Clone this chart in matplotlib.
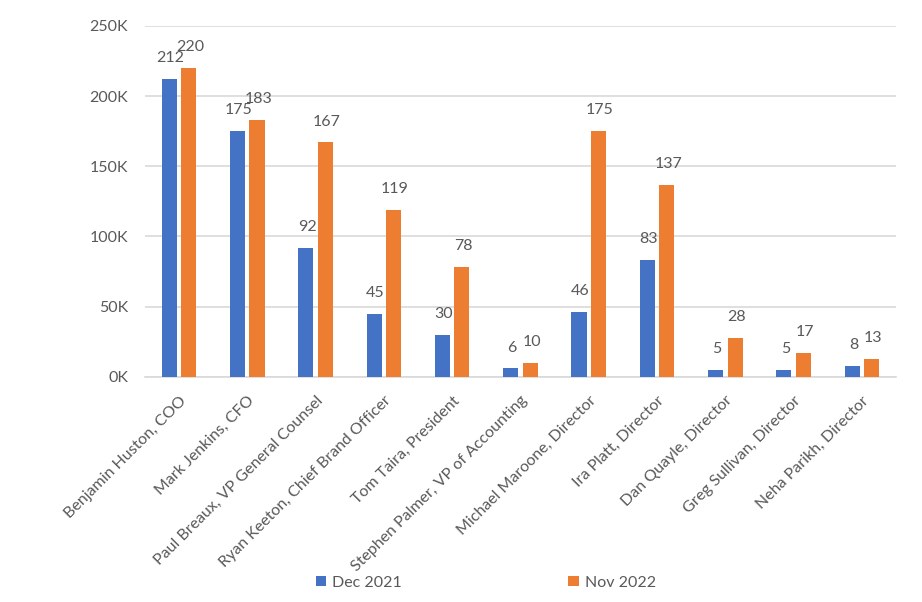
import matplotlib
matplotlib.use("Agg")
import numpy as np
from matplotlib import pyplot as plt
from matplotlib.ticker import FuncFormatter

# data (thousands)
people = [
    "Benjamin Huston, COO",
    "Mark Jenkins, CFO",
    "Paul Breaux, VP General Counsel",
    "Ryan Keeton, Chief Brand Officer",
    "Tom Taira, President",
    "Stephen Palmer, VP of Accounting",
    "Michael Maroone, Director",
    "Ira Platt, Director",
    "Dan Quayle, Director",
    "Greg Sullivan, Director",
    "Neha Parikh, Director",
]
dec2021 = [212, 175, 92, 45, 30, 6, 46, 83, 5, 5, 8]
nov2022 = [220, 183, 167, 119, 78, 10, 175, 137, 28, 17, 13]
seriesNames = ["Dec 2021", "Nov 2022"]

# style
textColor = "#595959"
gridColor = "#D9D9D9"
blue = "#4472C4"
orange = "#ED7D31"
plt.rcParams["font.family"] = ["Lato", "DejaVu Sans"]

fig = plt.figure(figsize=(9.22, 6.02), dpi=100)
ax = fig.add_axes([0.157, 0.374, 0.815, 0.583])

x = np.arange(len(people))
width = 0.22
offset = 0.143
barsDec = ax.bar(x - offset, [v * 1000 for v in dec2021], width, color=blue, label=seriesNames[0], zorder=3)
barsNov = ax.bar(x + offset, [v * 1000 for v in nov2022], width, color=orange, label=seriesNames[1], zorder=3)

# data labels above each bar
for bars, vals in ((barsDec, dec2021), (barsNov, nov2022)):
    for rect, v in zip(bars, vals):
        ax.annotate(
            f"{v}",
            (rect.get_x() + rect.get_width() / 2, rect.get_height()),
            xytext=(1, 10),
            textcoords="offset points",
            ha="center",
            va="bottom",
            fontsize=11.5,
            color=textColor,
        )

ax.set_xlim(-0.5, len(people) - 0.5)
ax.set_ylim(0, 250000)
ax.set_yticks(range(0, 250001, 50000))
ax.yaxis.set_major_formatter(FuncFormatter(lambda v, p: f"{int(v / 1000)}K"))
ax.grid(axis="y", color=gridColor, linewidth=1.2, zorder=0)

for side in ("top", "right", "left"):
    ax.spines[side].set_visible(False)
ax.spines["bottom"].set_color(gridColor)
ax.spines["bottom"].set_linewidth(1.2)

ax.tick_params(axis="both", length=0, colors=textColor, labelsize=11.5)
ax.tick_params(axis="y", pad=12)
ax.set_xticks(x)
ax.set_xticklabels(people, rotation=45, ha="right", rotation_mode="anchor")
ax.tick_params(axis="x", pad=12)

fig.legend(
    handles=[barsDec, barsNov],
    labels=seriesNames,
    loc="center",
    bbox_to_anchor=(0.527, 0.032),
    ncol=2,
    frameon=False,
    fontsize=11.5,
    labelcolor=textColor,
    handlelength=0.65,
    handleheight=0.65,
    handletextpad=0.4,
    columnspacing=10.4,
)

fig.savefig("out.png", dpi=100)
